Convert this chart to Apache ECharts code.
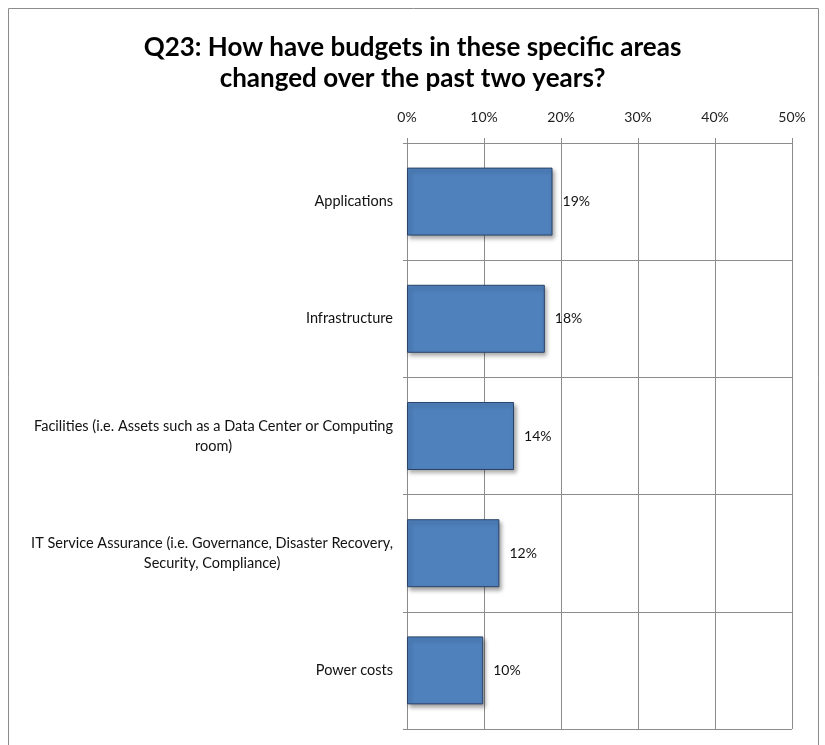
<!DOCTYPE html>
<html><head><meta charset="utf-8">
<script src="https://cdn.jsdelivr.net/npm/echarts@6/dist/echarts.min.js"></script>
<style>html,body{margin:0;padding:0;background:#fff}#c{width:825px;height:745px}</style>
</head><body><div id="c"></div>
<script>
const titleText = 'Q23: How have budgets in these specific areas\nchanged over the past two years?';
const categories = [
  'Applications',
  'Infrastructure',
  'Facilities (i.e. Assets such as a Data Center or Computing\nroom)',
  'IT Service Assurance (i.e. Governance, Disaster Recovery,\nSecurity, Compliance)',
  'Power costs'
];
const values = [18.9, 17.9, 13.9, 12.0, 9.9];
const xTicks = [0, 10, 20, 30, 40, 50];

const chart = echarts.init(document.getElementById('c'));
const font = 'Lato, "Open Sans", sans-serif';
chart.setOption({
  animation: false,
  backgroundColor: '#fff',
  title: {
    text: titleText, left: 'center', top: 27,
    textStyle: {fontFamily: font, fontSize: 26, fontWeight: 'bold', color: '#000', lineHeight: 31}
  },
  graphic: [{
    type: 'rect', shape: {x: 8.5, y: 8.5, width: 810, height: 760},
    style: {fill: 'none', stroke: '#8c8c8c', lineWidth: 1}, silent: true
  }],
  grid: {left: 407, right: 33, top: 143, bottom: 16},
  xAxis: {
    type: 'value', position: 'top', min: xTicks[0], max: xTicks[xTicks.length - 1], interval: 10,
    axisLine: {show: true, lineStyle: {color: '#8c8c8c'}},
    axisTick: {show: true, length: 5, lineStyle: {color: '#8c8c8c'}},
    splitLine: {show: true, lineStyle: {color: '#8c8c8c'}},
    axisLabel: {formatter: '{value}%', margin: 19, fontFamily: font, fontSize: 14, color: '#222'}
  },
  yAxis: {
    type: 'category', data: categories, inverse: true,
    axisLine: {show: true, lineStyle: {color: '#8c8c8c'}},
    axisTick: {show: true, length: 4, lineStyle: {color: '#8c8c8c'}},
    splitLine: {show: true, lineStyle: {color: '#8c8c8c'}},
    axisLabel: {
      margin: 14, fontFamily: font, fontSize: 14.5, color: '#111', lineHeight: 20,
      formatter: v => v.split('\n').map(s => '{c|' + s + '}').join('\n'),
      rich: {c: {align: 'center', fontFamily: font, fontSize: 14.5, color: '#111', lineHeight: 20}}
    }
  },
  series: [{
    type: 'bar', data: values, barCategoryGap: '42%',
    itemStyle: {
      color: '#4f81bd', borderColor: '#2a4366', borderWidth: 1,
      shadowBlur: 4, shadowOffsetX: 2, shadowOffsetY: 3, shadowColor: 'rgba(0,0,0,0.35)'
    },
    label: {
      show: true, position: 'right', distance: 10, fontFamily: font, fontSize: 14, color: '#111',
      formatter: p => Math.round(p.value) + '%'
    }
  }]
});
</script></body></html>
